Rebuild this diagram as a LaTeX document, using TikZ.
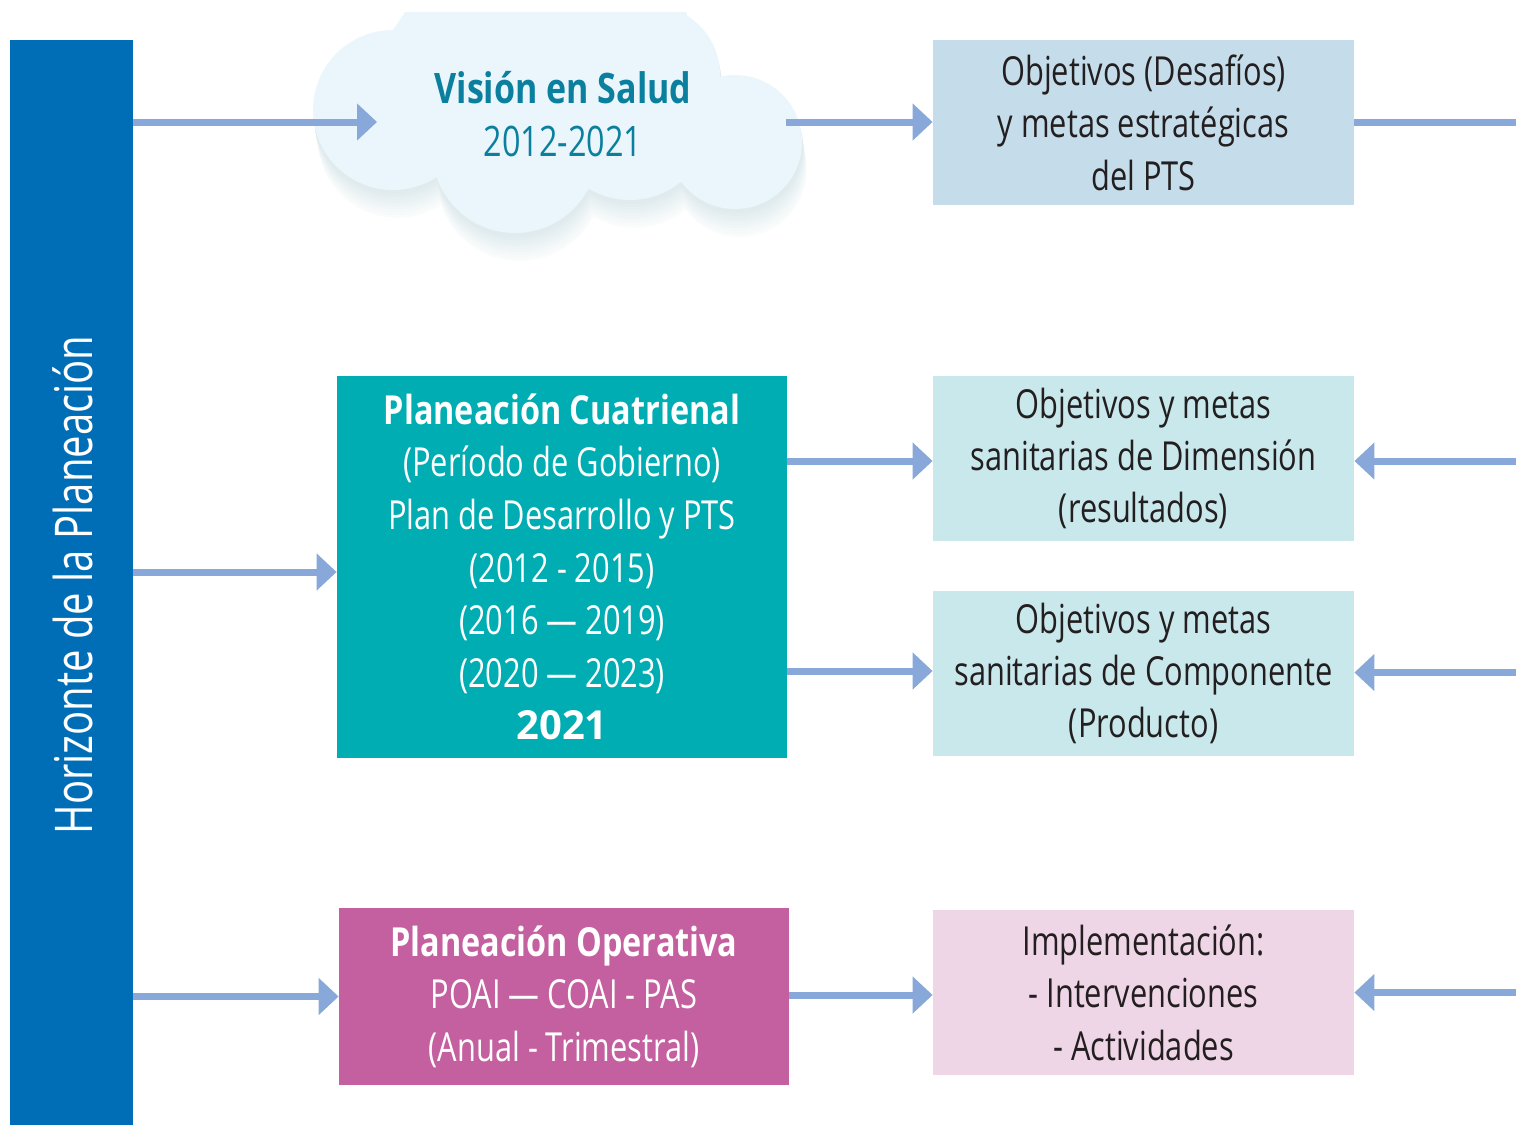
\documentclass[tikz,border=0pt]{standalone}
\usepackage{fontspec}
\setmainfont[FakeStretch=0.77, BoldFeatures={FakeStretch=0.81}]{Open Sans}
\newfontfamily\anchafont{Open Sans}
\usetikzlibrary{arrows.meta}
\definecolor{azulbarra}{HTML}{006EB6}
\definecolor{azulflecha}{HTML}{88A8DA}
\definecolor{nubefondo}{HTML}{EAF6FB}
\definecolor{nubesombra}{HTML}{8FB8BE}
\definecolor{azulvision}{HTML}{0B7F9E}
\definecolor{textogris}{HTML}{231F20}
\definecolor{cajaazul}{HTML}{C5DDEA}
\definecolor{cajaturquesa}{HTML}{00ADB2}
\definecolor{cajaceleste}{HTML}{C9E8EC}
\definecolor{cajamagenta}{HTML}{C4609F}
\definecolor{cajarosa}{HTML}{EFD6E7}
\newcommand{\nube}[1]{%
  \fill[#1] (393,110) circle[radius=80] (515,150) circle[radius=83] (630,120) circle[radius=80]
    (650,75) circle[radius=70] (735,142) circle[radius=67];
  \fill[#1] (413,0) -- (683,0) -- (715,120) -- (600,190) -- (440,175) -- (340,110) -- cycle;}

\begin{document}
\begin{tikzpicture}[x=0.5pt, y=-0.5pt,
    flecha/.style={draw=azulflecha, line width=3.5pt, -{Triangle[length=10pt,width=18pt]}},
    linea/.style={draw=azulflecha, line width=3.5pt}]
  \tikzstyle{caja} = [rectangle, inner sep=0pt, minimum width=210.5pt, minimum height=82.5pt,
    align=center, text=textogris, font=\fontsize{20}{26.2}\selectfont]
  \tikzstyle{bloque} = [rectangle, inner sep=0pt, minimum width=225pt,
    align=center, text=white, font=\fontsize{20}{26.3}\selectfont]
  \useasboundingbox (0,0) rectangle (1516,1125);

  % barra vertical
  \node[fill=azulbarra, inner sep=0pt, minimum width=61.5pt, minimum height=542.5pt] (bar) at (71.5,582.5) {};
  \node[rotate=90, text=white, font=\fontsize{26}{30}\selectfont] (horizonte) at (73,585) {Horizonte de la Planeación};

  % nube con sombra
  \begin{scope}
    \clip (250,12) rectangle (850,320);
    \foreach \d [evaluate=\d as \tono using {32-\d}] in {28,25,...,4} {
      \begin{scope}[shift={(\d/6,\d)}] \nube{nubesombra!\tono} \end{scope}
    }
    \nube{nubefondo}
  \end{scope}
  \node[align=center, text=azulvision, font=\fontsize{21}{26.5}\selectfont] (vision) at (563,114)
    {\textbf{Visión en Salud}\\2012-2021};
  \coordinate (nubein) at (377,122);
  \coordinate (nubeout) at (786,122);
  \coordinate (borde) at (1516,0);

  % cajas
  \node[caja, fill=cajaazul] (obj1) at (1143.5,122.5) {Objetivos (Desafíos)\\y metas estratégicas\\del PTS};
  \node[bloque, fill=cajaturquesa, minimum height=191pt] (cuat) at (562,567)
    {\textbf{Planeación Cuatrienal}\\(Período de Gobierno)\\Plan de Desarrollo y PTS\\(2012 - 2015)\\(2016 --- 2019)\\(2020 --- 2023)\\{\anchafont\bfseries 2021}};
  \node[caja, fill=cajaceleste] (obj2) at (1143.5,458.5) {Objetivos y metas\\sanitarias de Dimensión\\(resultados)};
  \node[caja, fill=cajaceleste] (obj3) at (1143.5,673.5) {Objetivos y metas\\sanitarias de Componente\\(Producto)};
  \node[bloque, fill=cajamagenta, minimum height=88.5pt] (oper) at (564,996.5)
    {\textbf{Planeación Operativa}\\POAI --- COAI - PAS\\(Anual - Trimestral)};
  \node[caja, fill=cajarosa] (impl) at (1143.5,992.5) {Implementación:\\- Intervenciones\\- Actividades};

  % puntos de llegada de las flechas
  \coordinate (cuatin) at ([yshift=-2.5pt]cuat.west);
  \coordinate (obj2in) at ([yshift=-1.25pt]obj2.west);
  \coordinate (obj2out) at ([yshift=-1.25pt]obj2.east);
  \coordinate (obj3in) at ([yshift=1.25pt]obj3.west);
  \coordinate (obj3out) at ([yshift=0.5pt]obj3.east);
  \coordinate (implin) at ([yshift=-1.25pt]impl.west);

  % flechas
  \draw[flecha] (bar.east |- nubein) -- (nubein);
  \draw[flecha] (nubeout) -- (obj1.west |- nubeout);
  \draw[linea] (obj1.east |- nubeout) -- (borde |- nubeout);
  \draw[flecha] (bar.east |- cuatin) -- (cuatin);
  \draw[flecha] (cuat.east |- obj2in) -- (obj2in);
  \draw[flecha] (cuat.east |- obj3in) -- (obj3in);
  \draw[flecha] (borde |- obj2out) -- (obj2out);
  \draw[flecha] (borde |- obj3out) -- (obj3out);
  \draw[flecha] (bar.east |- oper.west) -- (oper.west);
  \draw[flecha] (oper.east |- implin) -- (implin);
  \draw[flecha] (borde |- impl.east) -- (impl.east);
\end{tikzpicture}
\end{document}
